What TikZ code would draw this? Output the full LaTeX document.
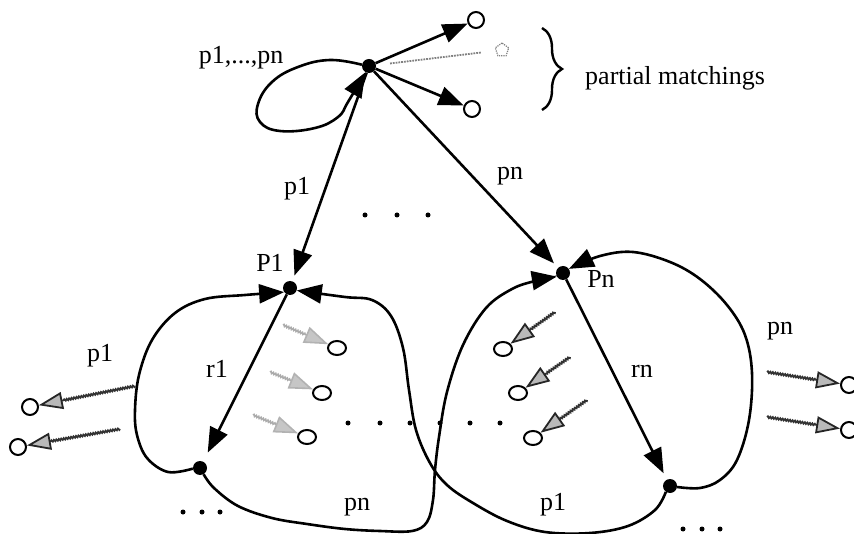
\documentclass[tikz,border=0pt]{standalone}
\usepackage{fontspec}
\setmainfont{Liberation Serif}
\usetikzlibrary{arrows.meta,shapes.geometric,decorations.pathmorphing,decorations.pathreplacing}
\begin{document}
\begin{tikzpicture}[x=1pt,y=-1pt,
  dotnode/.style={circle,fill=black,inner sep=0pt,minimum size=14pt},
  opencirc/.style={circle,draw,line width=2pt,inner sep=0pt,minimum size=16pt},
  openell/.style={ellipse,draw,line width=2pt,inner sep=0pt,minimum width=18pt,minimum height=14pt},
  lbl/.style={font=\fontsize{26}{30}\selectfont,inner sep=0pt,anchor=base},
  arr/.style={line width=2.6pt,-{Triangle[length=25pt,width=19pt]}},
  garrL/.style={line width=1.6pt,draw=gray!65,decorate,
     decoration={snake,amplitude=0.9pt,segment length=2.5pt,post length=24pt},
     -{Triangle[length=24pt,width=17pt,fill=gray!45,color=gray!60]}},
  garrD/.style={line width=1.8pt,draw=black!80,decorate,
     decoration={snake,amplitude=0.8pt,segment length=2.5pt,post length=24pt},
     -{Triangle[length=24pt,width=17pt,fill=gray!55,color=black!85]}},
  smalldot/.style={circle,fill=black,inner sep=0pt,minimum size=5pt}
]
\useasboundingbox (0,0) rectangle (854,534);

% main nodes
\node[dotnode] (T)  at (369,66)  {};
\node[dotnode] (P1) at (290,288) {};
\node[dotnode] (Pn) at (563,273) {};
\node[dotnode] (B1) at (200,468) {};
\node[dotnode] (B2) at (670,486) {};

% partial matchings
\node[opencirc] (c1) at (476,20) {};
\node[opencirc] (c2) at (472,109) {};
\node[regular polygon,regular polygon sides=5,draw=gray,densely dotted,line width=1.2pt,
      minimum size=14pt,inner sep=0pt] (pent) at (502,50) {};
\draw[arr] (T) -- (c1);
\draw[arr] (T) -- (c2);
\draw[densely dotted,line width=1.8pt,gray,shorten <=14pt,shorten >=15pt] (T) -- (pent);
\draw[line width=2.4pt,decorate,decoration={brace,amplitude=20pt}] (542,28) -- (542,110);
\node[lbl,anchor=base west] (pm) at (585,85) {partial matchings};

% self loop
\draw[arr] plot[smooth,tension=0.7] coordinates {(T.170) (330,60) (298,67) (272,82) (258,104) (260,122) (280,131) (315,128) (338,117) (348,102) (T.240)};
\node[lbl] (lab0) at (241,64) {p1,...,pn};

% T to P1, Pn
\draw[arr,shorten >=6pt] (T) -- (P1);
\draw[arr,shorten >=6pt] (T) -- (Pn);
\node[lbl] (lab1) at (297,195) {p1};
\node[lbl] (lab2) at (510,180) {pn};
\node[smalldot] (d1) at (365,215) {};
\node[smalldot] (d2) at (397,215) {};
\node[smalldot] (d3) at (428,215) {};

% P1, Pn labels
\node[lbl] (lP1) at (270,272) {P1};
\node[lbl] (lPn) at (601,288) {Pn};

% P1 -> B1, Pn -> B2
\draw[arr,shorten >=10pt] (P1) -- (B1);
\draw[arr,shorten >=7pt] (Pn) -- (B2);
\node[lbl] (lr1) at (217,378) {r1};
\node[lbl] (lrn) at (642,378) {rn};

% loops
\draw[arr] plot[smooth,tension=0.6] coordinates {(B1.185) (168,472) (147,458) (137,435) (135,410) (139,375) (152,340) (175,313) (205,299) (245,295) (P1.215)};
\draw[arr] plot[smooth,tension=0.6] coordinates {(B2.235) (655,510) (628,526) (590,533) (545,532) (507,521) (473,503) (447,485) (430,463) (416,430) (409,390) (403,348) (391,316) (372,300) (345,297) (P1.340)};
\draw[arr] plot[smooth,tension=0.6] coordinates {(B1.-60) (214,488) (238,506) (272,518) (307,524) (345,529) (380,531) (412,531) (427,522) (433,500) (435,470) (439,437) (447,392) (463,345) (486,308) (512,289) (535,281) (Pn.210)};
\draw[arr] plot[smooth,tension=0.6] coordinates {(B2.-8) (700,488) (720,480) (737,460) (749,420) (752,373) (745,335) (727,305) (700,279) (670,262) (633,252) (600,256) (Pn.35)};
\node[lbl] (lpnb) at (357,510) {pn};
\node[lbl] (lp1b) at (553,510) {p1};
\node[lbl] (lp1l) at (100,362) {p1};
\node[lbl] (lpnr) at (780,335) {pn};

% inner grey arrows, left group
\node[openell] (a1) at (337,348) {};
\node[openell] (a2) at (322,393) {};
\node[openell] (a3) at (307,437) {};
\coordinate (ta1) at (283,325);
\coordinate (ta2) at (270,372);
\coordinate (ta3) at (253,415);
\draw[garrL] (ta1) -- (a1);
\draw[garrL] (ta2) -- (a2);
\draw[garrL] (ta3) -- (a3);

% inner grey arrows, right group
\node[openell] (b1) at (503,349) {};
\node[openell] (b2) at (518,393) {};
\node[openell] (b3) at (533,438) {};
\coordinate (tb1) at (555,312);
\coordinate (tb2) at (570,357);
\coordinate (tb3) at (587,400);
\draw[garrD] (tb1) -- (b1);
\draw[garrD] (tb2) -- (b2);
\draw[garrD] (tb3) -- (b3);

% row of dots
\foreach \x [count=\i] in {348,380,410,440,470,500}
  \node[smalldot] (rd\i) at (\x,423) {};

% outside arrows left
\node[opencirc] (l1) at (30,407) {};
\node[opencirc] (l2) at (18,447) {};
\coordinate (tl1) at (135,386);
\coordinate (tl2) at (120,429);
\draw[garrD] (tl1) -- (l1);
\draw[garrD] (tl2) -- (l2);

% outside arrows right
\node[opencirc] (ro1) at (849,385) {};
\node[opencirc] (ro2) at (849,430) {};
\coordinate (tr1) at (767,372);
\coordinate (tr2) at (767,417);
\draw[garrD] (tr1) -- (ro1);
\draw[garrD] (tr2) -- (ro2);

% bottom dots
\foreach \x [count=\i] in {183,202,220}
  \node[smalldot] (bl\i) at (\x,512) {};
\foreach \x [count=\i] in {683,702,720}
  \node[smalldot] (br\i) at (\x,529) {};
\end{tikzpicture}
\end{document}
